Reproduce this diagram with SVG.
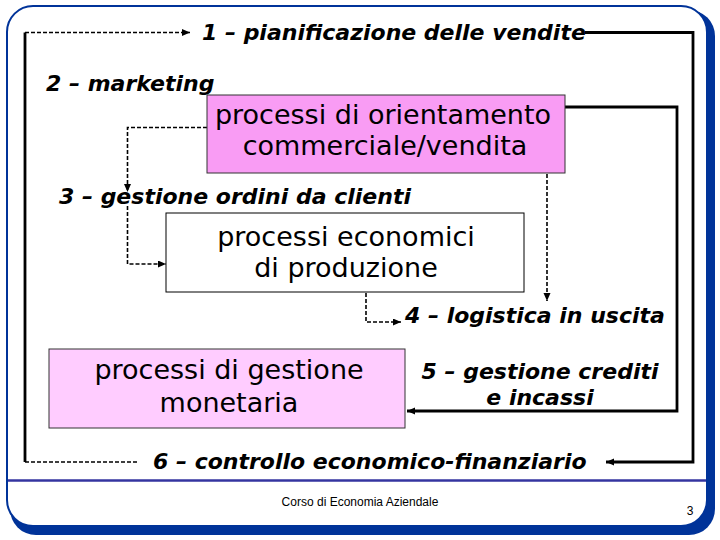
<svg xmlns="http://www.w3.org/2000/svg" width="720" height="540" viewBox="0 0 720 540">
<defs>
<marker id="ah" markerUnits="userSpaceOnUse" markerWidth="9" markerHeight="8" refX="8" refY="3.5" orient="auto">
<path d="M0,0 L8,3.5 L0,7 z" fill="#000"/>
</marker>
<style>
.lbl{font-family:"DejaVu Sans",Verdana,sans-serif;font-weight:bold;font-style:italic;font-size:22px;fill:#000}
.box{font-family:"DejaVu Sans",Verdana,sans-serif;font-size:27px;fill:#000;text-anchor:middle}
.dash{fill:none;stroke:#000;stroke-width:1.6;stroke-dasharray:4 2}
.solid{fill:none;stroke:#000;stroke-width:2.8}
.foot{font-family:"Liberation Sans",Arial,sans-serif;font-size:12px;fill:#000}
</style>
</defs>
<rect width="720" height="540" fill="#fff"/>
<g id="frame">
<rect x="10" y="10" width="705" height="525" rx="26" fill="#003399"/>
<rect x="7" y="6" width="700" height="520" rx="26" fill="#fff" stroke="#003399" stroke-width="2"/>
<line x1="8" y1="480.5" x2="706" y2="480.5" stroke="#3535A0" stroke-width="2.5"/>
</g>
<g id="connectors">
<path class="dash" d="M25,32.5 H190" marker-end="url(#ah)"/>
<path class="solid" d="M25,32.5 V462"/>
<path class="dash" d="M25,462 H138"/>
<path class="solid" d="M585,32.5 H693 V462 H606" marker-end="url(#ah)"/>
<path class="solid" d="M565,107 H677 V411 H407" marker-end="url(#ah)"/>
<path class="dash" d="M547,174 V301" marker-end="url(#ah)"/>
<path class="dash" d="M207,127.5 H127.5 V192" marker-end="url(#ah)"/>
<path class="dash" d="M127.5,206 V264 H166" marker-end="url(#ah)"/>
<path class="dash" d="M366,293 V322 H401" marker-end="url(#ah)"/>
</g>
<g id="box1">
<rect x="207" y="95" width="358" height="78" fill="#F99CF4" stroke="#333" stroke-width="1"/>
<text class="box" x="383" y="124" font-size="26">processi di orientamento</text>
<text class="box" x="385" y="155" font-size="26">commerciale/vendita</text>
</g>
<g id="box2">
<rect x="166" y="213" width="358" height="79" fill="#fff" stroke="#000" stroke-width="1"/>
<text class="box" x="346" y="246">processi economici</text>
<text class="box" x="346" y="277">di produzione</text>
</g>
<g id="box3">
<rect x="49" y="349" width="356" height="79" fill="#FFCCFF" stroke="#333" stroke-width="1"/>
<text class="box" x="229" y="379" font-size="28">processi di gestione</text>
<text class="box" x="229" y="412" font-size="28">monetaria</text>
</g>
<g id="labels">
<text class="lbl" x="202" y="40">1 – pianificazione delle vendite</text>
<text class="lbl" x="46" y="91">2 – marketing</text>
<text class="lbl" x="59" y="204">3 – gestione ordini da clienti</text>
<text class="lbl" x="405" y="323">4 – logistica in uscita</text>
<text class="lbl" x="540" y="379" text-anchor="middle">5 – gestione crediti</text>
<text class="lbl" x="540" y="405" text-anchor="middle">e incassi</text>
<text class="lbl" x="153" y="469">6 – controllo economico-finanziario</text>
</g>
<g id="footer">
<text class="foot" x="360" y="506" text-anchor="middle">Corso di Economia Aziendale</text>
<text class="foot" x="690" y="515" text-anchor="middle" font-size="13">3</text>
</g>
</svg>
